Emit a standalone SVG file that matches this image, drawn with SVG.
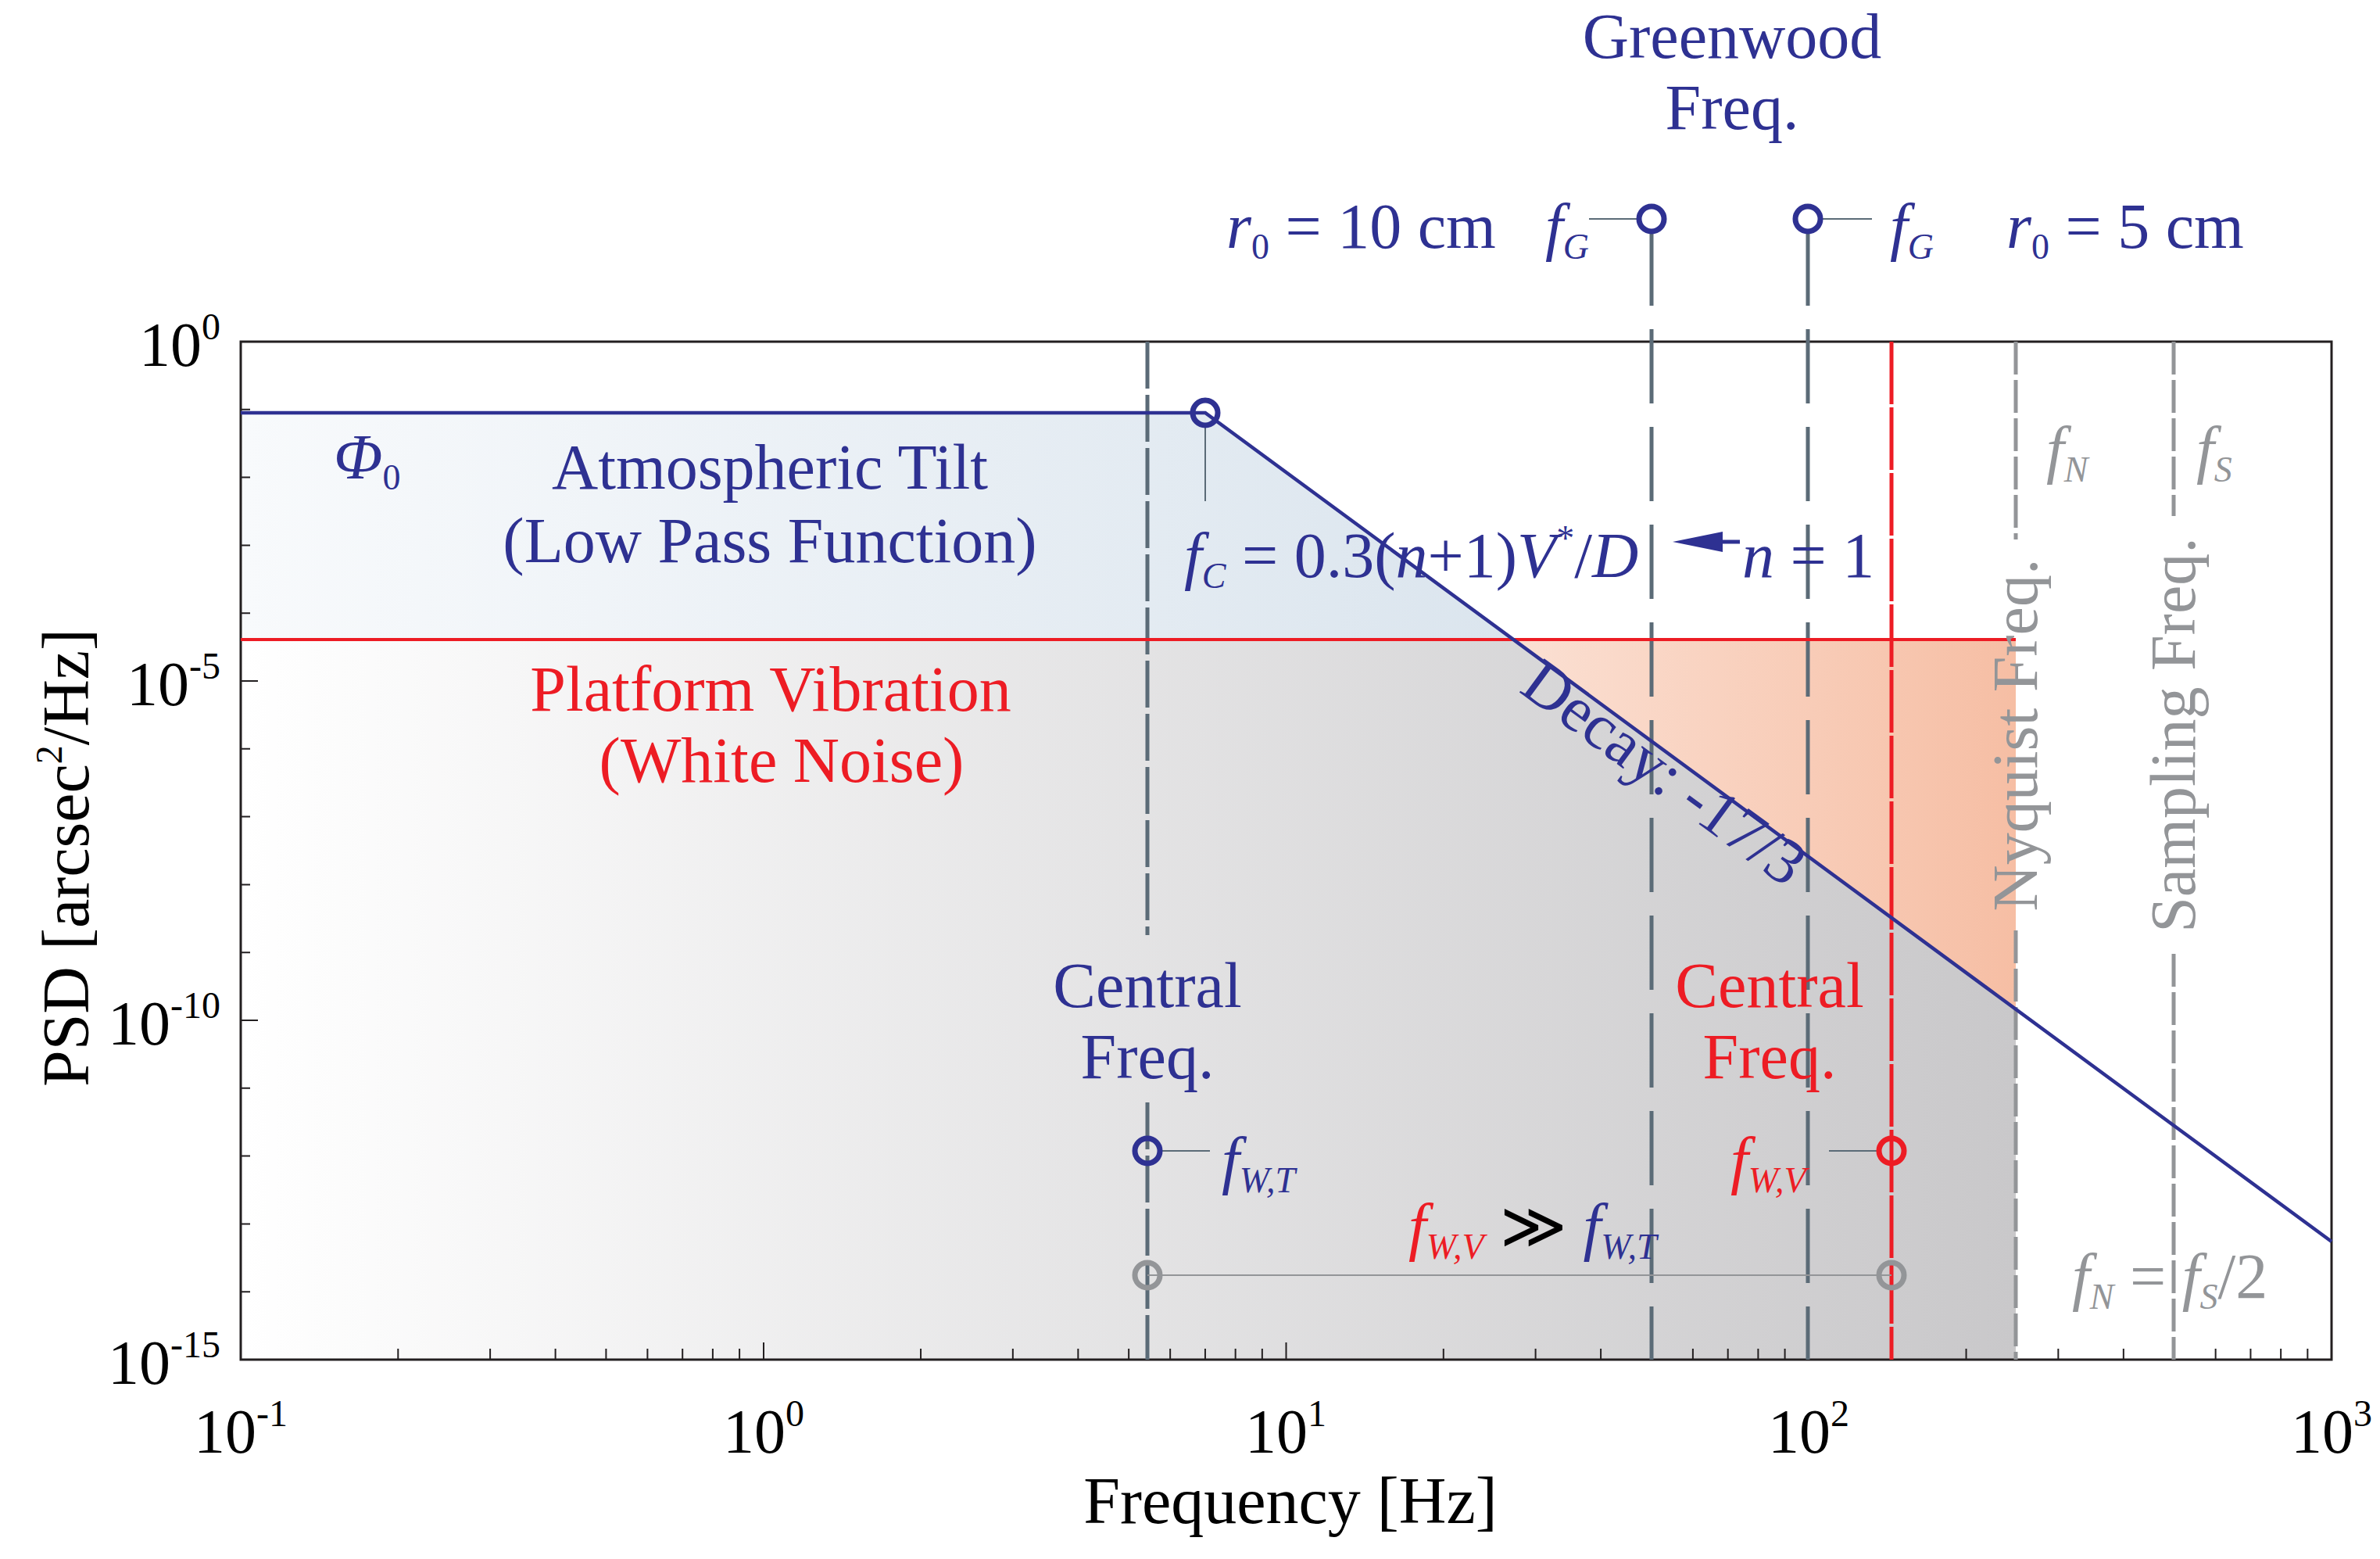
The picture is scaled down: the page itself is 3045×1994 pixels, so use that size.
<svg xmlns="http://www.w3.org/2000/svg" width="3045" height="1994" viewBox="0 0 3045 1994">
<style>
text{font-family:"Liberation Serif","Times New Roman",serif;}
.b{fill:#2e3192}.r{fill:#ed1c24}.g{fill:#939598}.k{fill:#000}
.lab{font-size:82px}.tk{font-size:80px}
.i{font-style:italic}
.circ{fill:none;stroke-width:7}
</style>
<defs>
<linearGradient id="gGray" x1="308" y1="0" x2="2579" y2="0" gradientUnits="userSpaceOnUse"><stop offset="0" stop-color="#ffffff"/><stop offset="1" stop-color="#c9c8ca"/></linearGradient>
<linearGradient id="gBlue" x1="308" y1="0" x2="1936" y2="0" gradientUnits="userSpaceOnUse"><stop offset="0" stop-color="#f8fafc"/><stop offset="1" stop-color="#dbe5ee"/></linearGradient>
<linearGradient id="gSal" x1="1936" y1="0" x2="2579" y2="0" gradientUnits="userSpaceOnUse"><stop offset="0" stop-color="#fbe0d3"/><stop offset="1" stop-color="#f6bea4"/></linearGradient>
<path id="xt" d="M201.3 0v-14M319.1 0v-14M402.6 0v-14M467.4 0v-14M520.4 0v-14M565.2 0v-14M603.9 0v-14M638.1 0v-14" stroke="#231f20" stroke-width="2"/>
</defs>
<g id="fills">
<polygon points="308,818 1936,818 2579,1291 2579,1739 308,1739" fill="url(#gGray)"/>
<polygon points="308,528 1542,528 1936,818 308,818" fill="url(#gBlue)"/>
<polygon points="1936,818 2579,818 2579,1291" fill="url(#gSal)"/>
</g>
<g id="axes">
<rect x="308" y="437" width="2675" height="1302" fill="none" stroke="#231f20" stroke-width="3"/>
<use href="#xt" x="308" y="1739"/><use href="#xt" x="976.75" y="1739"/><use href="#xt" x="1645.5" y="1739"/><use href="#xt" x="2314.25" y="1739"/>
<path d="M308 871h22M308 1305h22M308 523.8h12M308 610.6h12M308 697.4h12M308 784.2h12M308 957.8h12M308 1044.6h12M308 1131.4h12M308 1218.2h12M308 1391.8h12M308 1478.6h12M308 1565.4h12M308 1652.2h12M977 1739v-22M1645.5 1739v-22M2314 1739v-22" stroke="#231f20" stroke-width="2"/>
<text class="tk k" x="282" y="468" text-anchor="end">10<tspan font-size="48" dy="-34">0</tspan></text>
<text class="tk k" x="282" y="902" text-anchor="end">10<tspan font-size="48" dy="-34">-5</tspan></text>
<text class="tk k" x="282" y="1336" text-anchor="end">10<tspan font-size="48" dy="-34">-10</tspan></text>
<text class="tk k" x="282" y="1770" text-anchor="end">10<tspan font-size="48" dy="-34">-15</tspan></text>
<text class="tk k" x="308" y="1858" text-anchor="middle">10<tspan font-size="48" dy="-34">-1</tspan></text>
<text class="tk k" x="977" y="1858" text-anchor="middle">10<tspan font-size="48" dy="-34">0</tspan></text>
<text class="tk k" x="1645" y="1858" text-anchor="middle">10<tspan font-size="48" dy="-34">1</tspan></text>
<text class="tk k" x="2314" y="1858" text-anchor="middle">10<tspan font-size="48" dy="-34">2</tspan></text>
<text class="tk k" x="2983" y="1858" text-anchor="middle">10<tspan font-size="48" dy="-34">3</tspan></text>
<text class="k" x="1651" y="1948" text-anchor="middle" font-size="84">Frequency [Hz]</text>
<text class="k" transform="translate(113,1097) rotate(-90)" text-anchor="middle" font-size="84">PSD [arcsec<tspan font-size="48" dy="-34">2</tspan><tspan dy="34">/Hz]</tspan></text>
</g>
<g id="connectors">
<path d="M1468 437V1196M1468 1410V1739" stroke="#5b6b77" stroke-width="5" stroke-dasharray="60 8"/>
<path d="M2113 296V1739M2313 296V1739" stroke="#5b6b77" stroke-width="5" stroke-dasharray="95 30"/>
<path d="M2420 437V1739" stroke="#ed1c24" stroke-width="5" stroke-dasharray="80 4"/>
<path d="M2579 437V690M2579 1190V1739M2781 437V660M2781 1220V1739" stroke="#939598" stroke-width="5" stroke-dasharray="42 7"/>
<path d="M308 818H2579" stroke="#ed1c24" stroke-width="4"/>
<path d="M308 528H1542L2983 1588" fill="none" stroke="#2e3192" stroke-width="4.5"/>
<path d="M1468 1631H2420" stroke="#939598" stroke-width="2"/>
<path d="M1542 545V641M1484 1472H1548M2340 1472H2404M2033 280H2097M2329 280H2395" stroke="#5b6b77" stroke-width="2"/>
<polygon points="2140,693 2204,680 2204,706" fill="#2e3192"/>
<path d="M2204 693H2226" stroke="#2e3192" stroke-width="5"/>
</g>
<g id="node-fc"><circle class="circ" cx="1542" cy="528" r="16" stroke="#2e3192"/></g>
<g id="node-fwt"><circle class="circ" cx="1468" cy="1472" r="16" stroke="#2e3192"/></g>
<g id="node-fwv"><circle class="circ" cx="2420" cy="1472" r="16" stroke="#ed1c24"/></g>
<g id="node-gray1"><circle class="circ" cx="1468" cy="1631" r="16" stroke="#939598"/></g>
<g id="node-gray2"><circle class="circ" cx="2420" cy="1631" r="16" stroke="#939598"/></g>
<g id="node-fg1"><circle class="circ" cx="2113" cy="280" r="16" stroke="#2e3192"/></g>
<g id="node-fg2"><circle class="circ" cx="2313" cy="280" r="16" stroke="#2e3192"/></g>
<g id="labels">
<text class="lab b" x="2216" y="74" text-anchor="middle">Greenwood</text>
<text class="lab b" x="2216" y="165" text-anchor="middle">Freq.</text>
<text class="lab b" x="1569" y="317"><tspan class="i">r</tspan><tspan font-size="46" dy="14">0</tspan><tspan dy="-14"> = 10 cm</tspan></text>
<text class="lab b i" x="1977" y="317">f<tspan font-size="46" dy="14">G</tspan></text>
<text class="lab b i" x="2418" y="317">f<tspan font-size="46" dy="14">G</tspan></text>
<text class="lab b" x="2567" y="317"><tspan class="i">r</tspan><tspan font-size="46" dy="14">0</tspan><tspan dy="-14"> = 5 cm</tspan></text>
<text class="lab b i" x="427" y="612">Φ<tspan font-size="46" dy="14" font-style="normal">0</tspan></text>
<text class="lab b" x="985" y="625" text-anchor="middle">Atmospheric Tilt</text>
<text class="lab b" x="985" y="719" text-anchor="middle">(Low Pass Function)</text>
<text class="lab r" x="986" y="909" text-anchor="middle">Platform Vibration</text>
<text class="lab r" x="1000" y="1000" text-anchor="middle">(White Noise)</text>
<text class="lab b" x="1515" y="738"><tspan class="i">f</tspan><tspan font-size="46" dy="14" class="i">C</tspan><tspan dy="-14"> = 0.3(</tspan><tspan class="i">n</tspan><tspan>+1)</tspan><tspan class="i">V</tspan><tspan font-size="46" dy="-34">*</tspan><tspan dy="34">/</tspan><tspan class="i">D</tspan></text>
<text class="lab b" x="2229" y="738"><tspan class="i">n</tspan> = 1</text>
<text class="lab b" transform="translate(1942,884) rotate(36.3)">Decay: -17/3</text>
<text class="lab b" x="1468" y="1288" text-anchor="middle">Central</text>
<text class="lab b" x="1468" y="1379" text-anchor="middle">Freq.</text>
<text class="lab b i" x="1563" y="1511">f<tspan font-size="46" dy="14">W,T</tspan></text>
<text class="lab r" x="2264" y="1288" text-anchor="middle">Central</text>
<text class="lab r" x="2264" y="1379" text-anchor="middle">Freq.</text>
<text class="lab r i" x="2214" y="1511">f<tspan font-size="46" dy="14">W,V</tspan></text>
<text class="lab" x="1802" y="1596"><tspan class="i r">f</tspan><tspan class="i r" font-size="46" dy="14">W,V</tspan><tspan class="k" dy="-14"> ≫ </tspan><tspan class="i b">f</tspan><tspan class="i b" font-size="46" dy="14">W,T</tspan></text>
<text class="lab g i" x="2618" y="602">f<tspan font-size="46" dy="14">N</tspan></text>
<text class="lab g i" x="2810" y="602">f<tspan font-size="46" dy="14">S</tspan></text>
<text class="lab g" transform="translate(2606,940) rotate(-90)" text-anchor="middle">Nyquist  Freq.</text>
<text class="lab g" transform="translate(2808,940) rotate(-90)" text-anchor="middle">Sampling  Freq.</text>
<text class="lab g" x="2651" y="1660"><tspan class="i">f</tspan><tspan class="i" font-size="46" dy="14">N</tspan><tspan dy="-14"> = </tspan><tspan class="i">f</tspan><tspan class="i" font-size="46" dy="14">S</tspan><tspan dy="-14">/2</tspan></text>
</g>
</svg>
